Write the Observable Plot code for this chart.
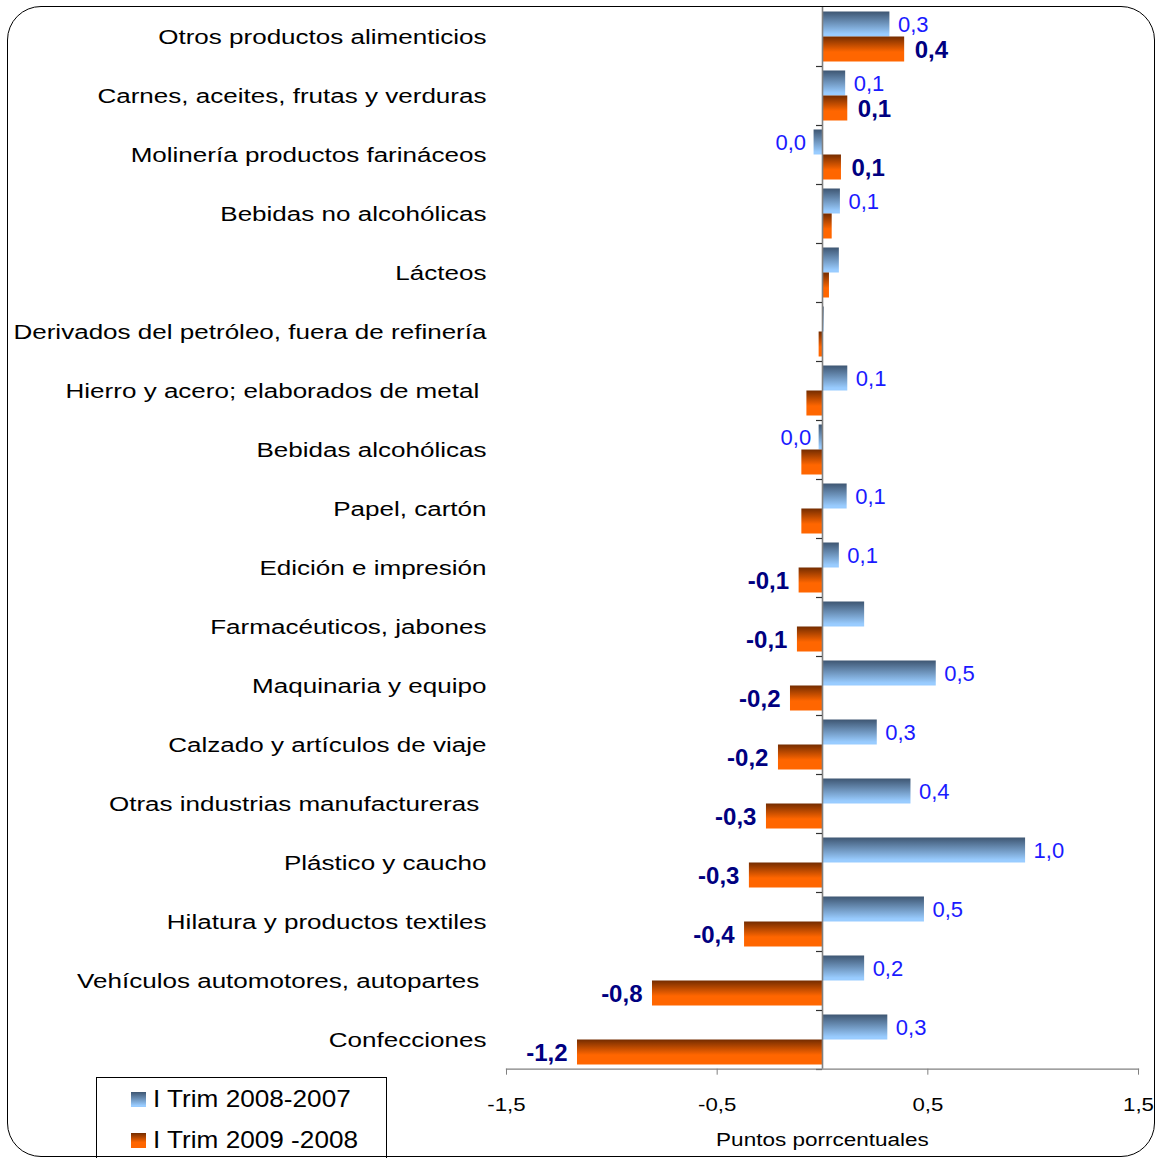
<!DOCTYPE html>
<html><head><meta charset="utf-8">
<script src="https://cdn.jsdelivr.net/npm/d3@7"></script>
<script src="https://cdn.jsdelivr.net/npm/@observablehq/plot@0.6"></script>
<style>
html,body{margin:0;padding:0;background:#fff;overflow:hidden;}
#wrap{position:relative;width:1156px;height:1158px;font-family:"Liberation Sans",Arial,sans-serif;}
#frame{position:absolute;left:7px;top:6px;width:1148px;height:1151px;border:1.5px solid #000;border-radius:34px;box-sizing:border-box;pointer-events:none;}
#legend{position:absolute;left:96px;top:1077px;width:291px;height:100px;border:1.3px solid #000;box-sizing:border-box;background:#fff;}
.li{position:absolute;left:34px;height:28px;display:flex;align-items:center;font-size:24px;line-height:28px;color:#000;white-space:nowrap;}
.sw{width:15px;height:15px;margin-right:7px;flex:none;}
.lt{display:inline-block;transform:scaleX(1.09);transform-origin:0 50%;}
</style>
</head><body>
<svg width="0" height="0" style="position:absolute">
  <defs>
    <linearGradient id="gBlue" x1="0" y1="0" x2="0" y2="1">
      <stop offset="0" stop-color="#3e5672"/>
      <stop offset="0.9" stop-color="#99ccff"/>
      <stop offset="1" stop-color="#99ccff"/>
    </linearGradient>
    <linearGradient id="gOrange" x1="0" y1="0" x2="0" y2="1">
      <stop offset="0" stop-color="#742c00"/>
      <stop offset="0.62" stop-color="#ff6600"/>
      <stop offset="1" stop-color="#ff6600"/>
    </linearGradient>
  </defs>
</svg>
<div id="wrap"></div>
<script>
// ---- data ----
const categories = [
  "Otros productos alimenticios",
  "Carnes, aceites, frutas y verduras",
  "Molinería productos farináceos",
  "Bebidas no alcohólicas",
  "Lácteos",
  "Derivados del petróleo, fuera de refinería",
  "Hierro y acero; elaborados de metal\u00a0",
  "Bebidas alcohólicas",
  "Papel, cartón",
  "Edición e impresión",
  "Farmacéuticos, jabones",
  "Maquinaria y equipo",
  "Calzado y artículos de viaje",
  "Otras industrias manufactureras\u00a0",
  "Plástico y caucho",
  "Hilatura y productos textiles",
  "Vehículos automotores, autopartes\u00a0",
  "Confecciones"
];
const seriesNames = ["I Trim 2008-2007", "I Trim 2009 -2008"];
const values2008 = [0.32, 0.11, -0.04, 0.085, 0.08, 0.008, 0.12, -0.016, 0.117, 0.08, 0.20, 0.54, 0.26, 0.42, 0.964, 0.484, 0.20, 0.31];
const values2009 = [0.39, 0.12, 0.09, 0.046, 0.033, -0.016, -0.074, -0.098, -0.098, -0.111, -0.119, -0.152, -0.209, -0.266, -0.347, -0.37, -0.807, -1.163];
const labels2008 = ["0,3", "0,1", "0,0", "0,1", "", "", "0,1", "0,0", "0,1", "0,1", "", "0,5", "0,3", "0,4", "1,0", "0,5", "0,2", "0,3"];
const labels2009 = ["0,4", "0,1", "0,1", "", "", "", "", "", "", "-0,1", "-0,1", "-0,2", "-0,2", "-0,3", "-0,3", "-0,4", "-0,8", "-1,2"];
const xTicks = [-1.5, -0.5, 0.5, 1.5];
const xTitle = "Puntos porrcentuales";

// ---- build rows ----
const rowsA = categories.map((c, i) => ({category: c, series: seriesNames[0], value: values2008[i], label: labels2008[i]}));
const rowsB = categories.map((c, i) => ({category: c, series: seriesNames[1], value: values2009[i], label: labels2009[i]}));
const fmt = d => d.toFixed(1).replace(".", ",");

const chart = Plot.plot({
  width: 1156,
  height: 1158,
  marginLeft: 506,
  marginRight: 18,
  marginTop: 6.7,
  marginBottom: 89.3,
  x: {domain: [-1.5, 1.5]},
  y: {domain: categories, padding: 0},
  style: {fontFamily: "'Liberation Sans', Arial, sans-serif", color: "#000", background: "transparent"},
  marks: [
    Plot.barX(rowsA, {x: "value", y: "category", fill: "url(#gBlue)", insetTop: 4.5, insetBottom: 29.5}),
    Plot.barX(rowsB, {x: "value", y: "category", fill: "url(#gOrange)", insetTop: 29.5, insetBottom: 4.5}),
    Plot.ruleX([0], {stroke: "#808080", strokeWidth: 1.6}),
    Plot.ruleY(categories.slice(1), {y: d => d, x1: 0, x2: 0, insetLeft: -6, dy: -29.5, stroke: "#333", strokeWidth: 1.2}),
    Plot.ruleY(categories.slice(-1), {y: d => d, x1: 0, x2: 0, insetLeft: -6, dy: 29.5, stroke: "#333", strokeWidth: 1.2}),
    Plot.frame({anchor: "bottom", stroke: "#808080", strokeWidth: 1.3}),
    Plot.axisX({ticks: xTicks, tickFormat: fmt, tickSize: 6, tickPadding: 23, fontSize: 17.5, stroke: "#808080", label: null}),
    Plot.axisY({tickSize: 0, tickPadding: 20, fontSize: 21, label: null}),
    Plot.text([xTitle], {frameAnchor: "bottom", dy: 71, lineAnchor: "middle", fontSize: 17.6, fill: "#000"}),
    // value labels series 1 (blue)
    Plot.text(rowsA, {filter: d => d.label && d.value >= 0, x: "value", y: "category", text: "label", dx: 8, dy: -12, textAnchor: "start", fontSize: 22, fill: "#1a1aff"}),
    Plot.text(rowsA, {filter: d => d.label && d.value < 0, x: "value", y: "category", text: "label", dx: -8, dy: -12, textAnchor: "end", fontSize: 22, fill: "#1a1aff"}),
    // value labels series 2 (bold navy)
    Plot.text(rowsB, {filter: d => d.label && d.value >= 0, x: "value", y: "category", text: "label", dx: 10, dy: 13, textAnchor: "start", fontSize: 24, fontWeight: "bold", fill: "#000080"}),
    Plot.text(rowsB, {filter: d => d.label && d.value < 0, x: "value", y: "category", text: "label", dx: -10, dy: 13, textAnchor: "end", fontSize: 24, fontWeight: "bold", fill: "#000080"})
  ]
});

// horizontal stretch of the axis texts (as in the original Excel export)
function stretch(selector, s) {
  chart.querySelectorAll(selector).forEach(t => {
    const xa = t.getAttribute("x");
    const x = xa && !isNaN(+xa) ? +xa : 0;
    if (xa && !isNaN(+xa)) t.removeAttribute("x");
    const tr = t.getAttribute("transform") || "";
    t.setAttribute("transform", `${tr} translate(${x},0) scale(${s},1)`);
  });
}
stretch('g[font-size="21"] text', 1.24);
stretch('g[font-size="17.5"] text', 1.27);
stretch('g[font-size="17.6"] text', 1.28);

const wrap = document.getElementById("wrap");
wrap.appendChild(chart);
chart.style.position = "absolute";
chart.style.left = "0";
chart.style.top = "0";

// legend
const legend = document.createElement("div");
legend.id = "legend";
const grads = ["linear-gradient(#3e5672, #99ccff 90%)", "linear-gradient(#742c00, #ff6600 62%)"];
const tops = [7, 48];
seriesNames.forEach((name, i) => {
  const item = document.createElement("div");
  item.className = "li";
  item.style.top = tops[i] + "px";
  const sw = document.createElement("span");
  sw.className = "sw";
  sw.style.background = grads[i];
  item.appendChild(sw);
  const t = document.createElement("span");
  t.className = "lt";
  t.textContent = name;
  item.appendChild(t);
  legend.appendChild(item);
});
wrap.appendChild(legend);
const frame = document.createElement("div");
frame.id = "frame";
wrap.appendChild(frame);
</script>
</body></html>
